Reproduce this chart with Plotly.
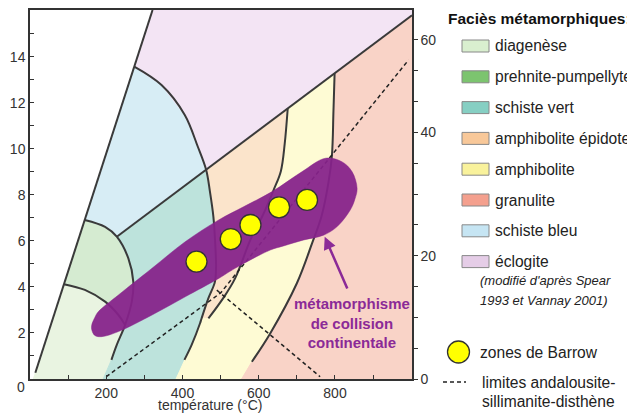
import plotly.graph_objects as go

# ---------------- data (temperature °C, pressure kbar) ----------------
LINE_A_T = [14, 89, 143.5, 273.4, 321.5]
LINE_A_P = [0.27, 4.12, 6.91, 13.57, 16.03]
LINE_B_T = [227.7, 462, 676, 799, 1002]
LINE_B_P = [6.18, 9.09, 11.75, 13.28, 15.80]
ARC1_T = [89, 144, 197, 232, 249.5]
ARC1_P = [4.12, 3.87, 3.36, 2.78, 2.35]
ARC2_T = [143.5, 197, 227.7, 258, 271, 267, 249.5, 227.6, 213.6]
ARC2_P = [6.91, 6.61, 6.18, 5.24, 4.22, 3.36, 2.35, 1.48, 0.83]
ARCC_T = [273.4, 345, 406, 440, 462, 472, 481, 486, 488, 485, 468, 450, 446, 424, 405]
ARCC_P = [13.57, 12.77, 11.47, 10.10, 9.09, 8.14, 7.05, 5.83, 4.86, 4.22, 3.51, 2.63, 2.42, 1.48, 0.83]
EP_T = [676, 668, 658, 639, 610, 578, 551, 538, 510, 468]
EP_P = [11.75, 10.2, 9.03, 8.21, 7.09, 6.04, 4.88, 4.37, 3.59, 2.63]
GRAN_T = [799, 796, 792, 783, 765, 740, 700, 630, 582]
GRAN_P = [13.28, 11.65, 9.71, 8.55, 7.09, 5.9, 4.16, 1.98, 0.75]
FOOT_T = [8.7, 192, 383, 555]          # where boundaries reach P = 0
T_MAX, P_MAX = 1002, 16.03

ALSI_T = [200, 500, 993]               # andalousite/disthène + disthène/sillimanite
ALSI_P = [0.1, 3.74, 13.86]
ANDSIL_T = [490, 761]
ANDSIL_P = [3.86, 0.1]

BAND_T = [162, 170, 179, 232, 320, 407, 495, 560, 635, 713, 775, 818, 845, 858, 852, 840,
          805, 770, 718, 665, 630, 538, 495, 407, 320, 232, 188, 170, 162, 162]
BAND_P = [2.35, 2.67, 2.92, 3.65, 4.81, 5.96, 6.91, 7.48, 8.14, 9.0, 9.59, 9.44, 9.0, 8.28, 7.8, 7.34,
          6.61, 6.25, 6.04, 5.78, 5.6, 4.81, 4.37, 3.57, 2.78, 2.06, 1.84, 1.89, 2.14, 2.35]

BARROW_T = [436.7, 526.6, 578.3, 653.3, 726.7]
BARROW_P = [5.10, 6.08, 6.69, 7.46, 7.78]

X_TICKS = [0, 200, 400, 600, 800]
Y_TICKS = [0, 2, 4, 6, 8, 10, 12, 14]
DEPTH_TICK_STEP = 1.339
DEPTH_LABELS = ["0", "", "", "", "20", "", "", "", "40", "", "", "60"]

LEGEND_LABELS = ["diagenèse", "prehnite-pumpellyte", "schiste vert", "amphibolite épidote",
                 "amphibolite", "granulite", "schiste bleu", "éclogite"]
LEGEND_COLORS = ["#d9efcf", "#7cc46f", "#86cfc3", "#f8c899", "#f9f29c", "#f4a08e", "#c6e5f3", "#e5cde7"]

# ---------------- helpers ----------------
def pts(T, P, idx):
    return [(T[i], P[i]) for i in idx]

A = lambda idx: pts(LINE_A_T, LINE_A_P, idx)
B = lambda idx: pts(LINE_B_T, LINE_B_P, idx)
A1 = lambda idx: pts(ARC1_T, ARC1_P, idx)
A2 = lambda idx: pts(ARC2_T, ARC2_P, idx)
AC = lambda idx: pts(ARCC_T, ARCC_P, idx)
EP = lambda idx: pts(EP_T, EP_P, idx)
GR = lambda idx: pts(GRAN_T, GRAN_P, idx)
foot = lambda i: [(FOOT_T[i], 0)]

regions = [
    ("#e9f4e1", foot(0) + A([0, 1]) + A1([1, 2, 3, 4]) + A2([7, 8]) + foot(1)),
    ("#d5ebd1", A([1, 2]) + A2([1, 2, 3, 4, 5, 6]) + A1([3, 2, 1, 0])),
    ("#d7edf5", A([2, 3]) + AC([1, 2, 3, 4]) + B([0]) + A2([1])),
    ("#bde3dc", A2([2, 3, 4, 5, 6, 7, 8]) + foot(1) + foot(2) + AC(list(range(14, 3, -1)))),
    ("#f3e4f4", A([3, 4]) + [(T_MAX, P_MAX)] + B([4, 3, 2, 1]) + AC([4, 3, 2, 1, 0])),
    ("#fbe4cb", B([1, 2]) + EP(list(range(1, 10))) + AC(list(range(11, 3, -1)))),
    ("#fefbd4", B([2, 3]) + GR(list(range(1, 9))) + foot(3) + foot(2) + AC([14, 13, 12, 11]) + EP(list(range(9, -1, -1)))),
    ("#f9d3c7", B([3, 4]) + [(T_MAX, 0)] + foot(3) + GR(list(range(8, -1, -1)))),
]

fig = go.Figure()
for col, poly in regions:
    xs = [p[0] for p in poly] + [poly[0][0]]
    ys = [p[1] for p in poly] + [poly[0][1]]
    fig.add_trace(go.Scatter(x=xs, y=ys, mode="lines", fill="toself", fillcolor=col,
                             line=dict(color=col, width=1), hoverinfo="skip"))

LC = "#3a3a3a"
for T, P, shape in [(LINE_A_T, LINE_A_P, "linear"), (LINE_B_T, LINE_B_P, "linear"),
                    (ARC1_T, ARC1_P, "spline"), (ARC2_T, ARC2_P, "spline"),
                    (ARCC_T, ARCC_P, "spline"), (EP_T, EP_P, "spline"), (GRAN_T, GRAN_P, "spline")]:
    fig.add_trace(go.Scatter(x=T, y=P, mode="lines", line=dict(color=LC, width=2, shape=shape),
                             hoverinfo="skip"))

for T, P in [(ALSI_T, ALSI_P), (ANDSIL_T, ANDSIL_P)]:
    fig.add_trace(go.Scatter(x=T, y=P, mode="lines", line=dict(color="#222", width=1.5, dash="4px,3px"),
                             hoverinfo="skip"))

fig.add_trace(go.Scatter(x=BAND_T, y=BAND_P, mode="lines", fill="toself",
                         fillcolor="rgba(134,34,138,0.94)",
                         line=dict(color="rgba(134,34,138,0.94)", width=0.5, shape="spline"),
                         hoverinfo="skip"))

fig.add_trace(go.Scatter(x=BARROW_T, y=BARROW_P, mode="markers",
                         marker=dict(size=21, color="#ffff00", line=dict(color="#333", width=1.3)),
                         hoverinfo="skip"))

fig.add_trace(go.Scatter(x=[0], y=[0], yaxis="y2", mode="markers", marker=dict(opacity=0),
                         hoverinfo="skip"))

FONT = "Liberation Sans, Arial, sans-serif"
TXT = "#333"

# page pixel -> paper (plot area spans x 30..412, y 10..379)
def px(x):
    return (x - 30) / 382

def py(y):
    return (379 - y) / 369

def ptext(x, y, text, size=15.6, color="#222", xanchor="left", italic=False, bold=False):
    if bold:
        text = "<b>" + text + "</b>"
    if italic:
        text = "<i>" + text + "</i>"
    return dict(x=px(x), y=py(y), xref="paper", yref="paper", showarrow=False,
                xanchor=xanchor, yanchor="middle", text=text,
                font=dict(family=FONT, size=size, color=color))

annotations = [
    dict(x=773, y=6.18, ax=834, ay=3.87, xref="x", yref="y", axref="x", ayref="y",
         showarrow=True, arrowhead=2, arrowsize=1, arrowwidth=2.5, arrowcolor="#8b2a97",
         text="", standoff=0),
    dict(x=845, y=2.45, xref="x", yref="y", showarrow=False, xanchor="center", yanchor="middle",
         text="<b>métamorphisme<br>de collision<br>continentale</b>",
         font=dict(family=FONT, size=15, color="#8b2a97"), align="center"),
    ptext(210, 405, "température (°C)", size=14, color=TXT, xanchor="center"),
    ptext(21, 387, "0", size=14, color=TXT, xanchor="center"),
    ptext(446, 18, "Faciès métamorphiques:", size=15.5, color="#111", bold=True),
    ptext(478, 280, "(modifié d'après Spear", size=13, italic=True),
    ptext(478, 300, "1993 et Vannay 2001)", size=13, italic=True),
    ptext(478, 352, "zones de Barrow"),
    ptext(480, 382, "limites andalousite-"),
    ptext(480, 401, "sillimanite-disthène"),
]
shapes = []
for i, (lab, col) in enumerate(zip(LEGEND_LABELS, LEGEND_COLORS)):
    yc = 46 + i * 30.8
    shapes.append(dict(type="rect", xref="paper", yref="paper", x0=px(462), x1=px(489),
                       y0=py(yc + 6), y1=py(yc - 6), fillcolor=col, line=dict(color="#888", width=1)))
    annotations.append(ptext(493, yc, lab))
shapes.append(dict(type="circle", xref="paper", yref="paper", x0=px(447.5), x1=px(469.5),
                   y0=py(363), y1=py(341), fillcolor="#ffff00", line=dict(color="#333", width=1.3)))
shapes.append(dict(type="line", xref="paper", yref="paper", x0=px(443), x1=px(466),
                   y0=py(382), y1=py(382), line=dict(color="#222", width=1.5, dash="4px,3px")))

fig.update_layout(
    width=627, height=417, autosize=False,
    margin=dict(l=30, r=215, t=10, b=38, pad=0),
    paper_bgcolor="white", plot_bgcolor="white",
    showlegend=False,
    font=dict(family=FONT, size=14, color=TXT),
    xaxis=dict(range=[0, T_MAX], showgrid=False, zeroline=False, showline=True, mirror=True,
               automargin=False,
               linecolor="#333", linewidth=1.5, tickmode="array", tickvals=X_TICKS,
               ticktext=[""] + [str(v) for v in X_TICKS[1:]], ticks="inside", ticklen=4,
               tickcolor="#333", tickfont=dict(family=FONT, size=14, color=TXT),
               minor=dict(tickmode="array", tickvals=[100, 300, 500, 700, 900], ticks="inside",
                          ticklen=4, tickcolor="#333")),
    yaxis=dict(range=[0, P_MAX], showgrid=False, zeroline=False, showline=True, mirror=True,
               automargin=False,
               linecolor="#333", linewidth=1.5, tickmode="array", tickvals=Y_TICKS,
               ticktext=[""] + [str(v) for v in Y_TICKS[1:]], ticks="inside", ticklen=4,
               tickcolor="#333", tickfont=dict(family=FONT, size=14, color=TXT),
               minor=dict(tickmode="array", tickvals=[1, 3, 5, 7, 9, 11, 13, 15], ticks="inside",
                          ticklen=4, tickcolor="#333")),
    yaxis2=dict(range=[0, P_MAX], overlaying="y", side="right", showgrid=False, zeroline=False,
                automargin=False,
                showline=True, linecolor="#333", linewidth=1.5, tickmode="array",
                tickvals=[k * DEPTH_TICK_STEP for k in range(12)], ticktext=DEPTH_LABELS,
                ticks="outside", ticklen=4, tickcolor="#333",
                tickfont=dict(family=FONT, size=14, color=TXT)),
    annotations=annotations,
    shapes=shapes,
)

fig.write_html("out.html", config={"displayModeBar": False},
               post_script="document.body.style.margin='0';document.body.style.overflow='hidden';")
